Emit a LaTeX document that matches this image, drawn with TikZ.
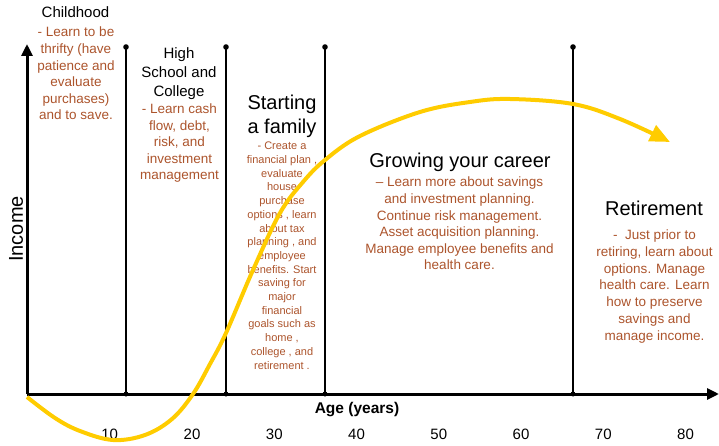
\documentclass[tikz,border=0pt]{standalone}
\usepackage{fontspec}
\setmainfont{Liberation Sans}
\usetikzlibrary{arrows.meta}
\definecolor{notebrown}{RGB}{172, 84, 44}
\definecolor{pathyellow}{RGB}{255, 204, 0}

\begin{document}
\begin{tikzpicture}[x=1pt, y=-1pt,
  heading/.style={align=center, inner sep=0pt, anchor=north},
  note/.style={align=center, inner sep=0pt, anchor=north, text=notebrown},
  divider/.style={line width=2pt},
  axisline/.style={line width=3pt, -{Triangle[length=12pt, width=11pt]}},
  tick/.style={anchor=base, font=\fontsize{15}{18}\selectfont}]
  \useasboundingbox (0, 0) rectangle (719, 446);

  % Axes
  \coordinate (origin) at (27, 394);
  \coordinate (xend) at (719, 394);
  \coordinate (yend) at (27, 44);
  \draw[axisline] (origin) -- (xend);
  \draw[axisline] (origin) -- (yend);
  \node[rotate=90, font=\fontsize{20}{24}\selectfont] (income) at (16, 229) {Income};
  \node[anchor=base, font=\bfseries\fontsize{15.5}{18}\selectfont] (age) at (357, 413) {Age (years)};
  \foreach \a in {10, 20, ..., 80}
    \node[tick] (tick\a) at ({27.5 + 8.225*\a}, 439) {\a};

  % Stage dividers
  \foreach \x/\name in {126/school, 226/family, 325/career, 573/retire} {
    \coordinate (\name-bot) at (\x, 394);
    \coordinate (\name-top) at (\x, 47);
    \draw[divider] (\name-bot) -- (\name-top);
    \fill (\name-top) circle[radius=2.8pt];
    \fill (\name-bot) circle[radius=2.5pt];
  }

  % Childhood
  \node[anchor=base, font=\fontsize{15}{19}\selectfont] (childhead) at (75.5, 18) {Childhood};
  \node[note, font=\fontsize{13.5}{16.6}\selectfont] (childnote) at (76, 27)
    {- Learn to be\\thrifty (have\\patience and\\evaluate\\purchases)\\and to save.};

  % High school and college
  \node[heading, font=\fontsize{15}{19}\selectfont] (schoolhead) at (179, 47) {High\\School and\\College};
  \node[note, font=\fontsize{13.5}{16.5}\selectfont] (schoolnote) at (179.5, 104)
    {- Learn cash\\flow, debt,\\risk, and\\investment\\management};

  % Starting a family
  \node[heading, font=\fontsize{20}{24}\selectfont] (familyhead) at (282, 94.5) {Starting\\a family};
  \node[note, font=\fontsize{11}{13.7}\selectfont] (familynote) at (282, 142)
    {- Create a\\financial plan ,\\evaluate\\house\\purchase\\options , learn\\about tax\\planning , and\\employee\\benefits. Start\\saving for\\major\\financial\\goals such as\\home ,\\college , and\\retirement .};

  % Growing your career
  \node[heading, font=\fontsize{20}{24}\selectfont] (careerhead) at (460, 152.5) {Growing your career};
  \node[note, font=\fontsize{13.5}{16.6}\selectfont] (careernote) at (459.5, 177)
    {-- Learn more about savings\\and investment planning.\\Continue risk management.\\Asset acquisition planning.\\Manage employee benefits and\\health care.};

  % Retirement
  \node[heading, font=\fontsize{20}{24}\selectfont] (retirehead) at (654, 200.5) {Retirement};
  \node[note, font=\fontsize{13.5}{16.67}\selectfont] (retirenote) at (654.5, 230)
    {-\ \ Just prior to\\retiring, learn about\\options. Manage\\health care. Learn\\how to preserve\\savings and\\manage income.};

  % Income curve
  \draw[line width=4pt, pathyellow, -{Triangle[length=20pt, width=17pt]}]
    plot[smooth, tension=0.6] coordinates {(27, 397) (55, 418) (80, 431) (113, 440) (145, 435)
      (172, 419) (193, 394) (210, 364) (226, 333) (253, 270) (280, 213) (303, 182) (325, 160)
      (360, 136) (420, 112) (470, 102) (510, 99) (573, 104) (620, 119) (670, 142)};
\end{tikzpicture}
\end{document}
